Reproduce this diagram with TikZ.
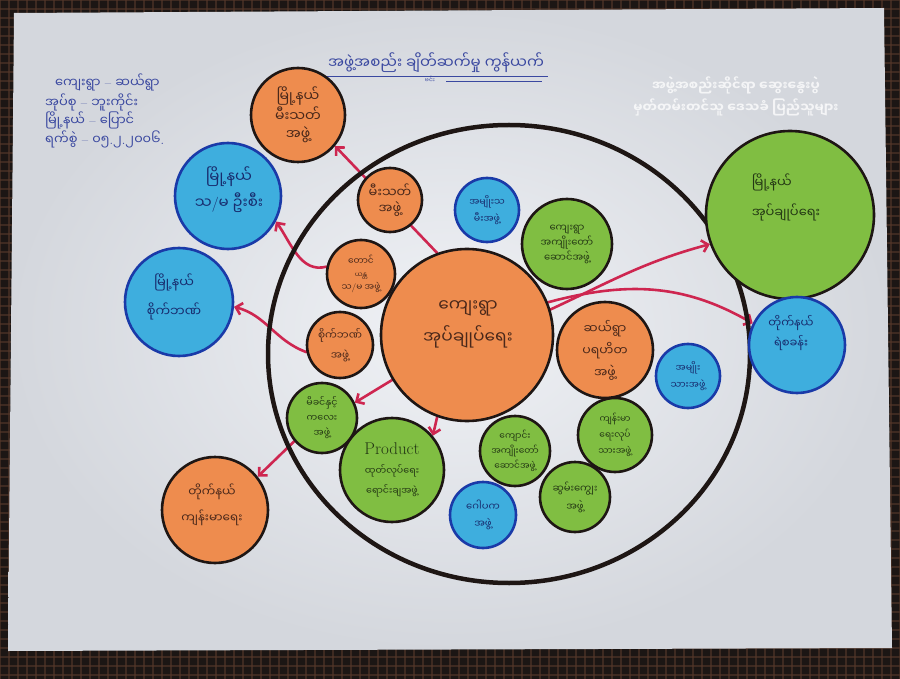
\documentclass[tikz,border=0pt]{standalone}
\usepackage{fontspec}
\usetikzlibrary{arrows.meta}
\newfontfamily\my[Script=Myanmar]{Noto Sans Myanmar UI}
\newcommand{\slsh}{{\normalfont /}}
\newcommand{\dsh}{{\normalfont\ --\ }}
\newcommand{\dt}{{\normalfont .}}
\newcommand{\fs}[2]{\fontsize{#1}{#2}\selectfont}
\definecolor{cloth}{RGB}{28,22,20}
\definecolor{clothline}{RGB}{86,56,42}
\definecolor{paperin}{RGB}{240,242,246}
\definecolor{paperout}{RGB}{212,215,221}
\definecolor{orangef}{RGB}{238,140,78}
\definecolor{greenf}{RGB}{128,190,66}
\definecolor{bluef}{RGB}{62,174,222}
\definecolor{bluedraw}{RGB}{26,58,168}
\definecolor{inkdark}{RGB}{30,22,20}
\definecolor{otext}{RGB}{74,40,26}
\definecolor{gtext}{RGB}{36,56,20}
\definecolor{btext}{RGB}{24,44,110}
\definecolor{blueink}{RGB}{58,72,160}
\definecolor{redarr}{RGB}{206,38,80}
\pgfdeclarelayer{back}
\pgfdeclarelayer{arrows}
\pgfsetlayers{back,arrows,main}
\tikzset{
  circ/.style={circle, inner sep=0pt, align=center, line width=2.6pt},
  org/.style={circ, draw=inkdark, fill=orangef, text=otext},
  grn/.style={circ, draw=inkdark, fill=greenf, text=gtext},
  blu/.style={circ, draw=bluedraw, fill=bluef, text=btext},
  ctext/.style={align=center, inner sep=0pt},
  arr/.style={draw=redarr, line width=2.6pt, line cap=round, -{Straight Barb[length=6pt,width=12pt]}},
  hdr/.style={anchor=west, text=blueink, font=\my\fs{13}{15}, inner sep=0pt},
}
\begin{document}
\begin{tikzpicture}[x=1pt,y=-1pt]
\useasboundingbox (0,0) rectangle (900,679);
\begin{pgfonlayer}{back}
  \fill[cloth] (0,0) rectangle (900,679);
  \foreach \v in {0,9,...,900} {\draw[clothline, line width=1.4pt, opacity=0.6] (\v,0) -- (\v,679);}
  \foreach \v in {0,9,...,679} {\draw[clothline, line width=1.4pt, opacity=0.6] (0,\v) -- (900,\v);}
  \shade[inner color=paperin, outer color=paperout] (14,13) -- (884,8) -- (892,648) -- (8,651) -- cycle;
\end{pgfonlayer}

% header
\node[hdr] (h1) at (55,82) {ကျေးရွာ\dsh ဆယ်ရွာ};
\node[hdr] (h2) at (45,102) {အုပ်စု\dsh ဘူးကိုင်း};
\node[hdr] (h3) at (45,120) {မြို့နယ်\dsh ပြောင်};
\node[hdr] (h4) at (45,139) {ရက်စွဲ\dsh ၀၅\dt၂\dt၂၀၀၆\dt};

% title
\node[text=blueink, font=\my\fs{15}{17}, inner sep=0pt] (title) at (436,63) {အဖွဲ့အစည်း ချိတ်ဆက်မှု ကွန်ယက်};
\coordinate (u1a) at (322,76); \coordinate (u1b) at (548,76);
\coordinate (u2a) at (446,81); \coordinate (u2b) at (542,81);
\draw[blueink, line width=0.8pt] (u1a) -- (u1b);
\draw[blueink, line width=0.8pt] (u2a) -- (u2b);
\node[text=blueink, font=\my\fs{6}{7}, inner sep=0pt] (venn) at (430,79) {ဗင်း};

% whited-out text
\node[text=white, opacity=0.75, font=\my\bfseries\fs{13}{22}, align=center, inner sep=0pt] (wt) at (736,96) {အဖွဲ့အစည်းဆိုင်ရာ ဆွေးနွေးပွဲ\\မှတ်တမ်းတင်သူ ဒေသခံ ပြည်သူများ};

% outer ring
\draw[inkdark, line width=4.5pt] (509,354) ellipse [x radius=241, y radius=229];

% circles
\node[org, minimum size=94pt, font=\my\fs{14}{18}] (fireT) at (298,115) {မြို့နယ်\\မီးသတ်\\အဖွဲ့};
\node[blu, minimum size=106pt] (coopT) at (228,196) {};
\node[ctext, text=btext, font=\my\fs{15}{26}] (coopTt) at (229,190) {မြို့နယ်\\သ\slsh မ ဦးစီး};
\node[blu, minimum size=108pt] (bankT) at (179,302) {};
\node[ctext, text=btext, font=\my\fs{13}{29}] (bankTt) at (174,297) {မြို့နယ်\\စိုက်ဘဏ်};
\node[grn, minimum size=168pt] (admT) at (790,215) {};
\node[text=gtext, font=\my\fs{13}{30}, align=left, inner sep=0pt] (admTt) at (786,197) {မြို့နယ်\\အုပ်ချုပ်ရေး};
\node[blu, minimum size=96pt] (police) at (797,345) {};
\node[ctext, text=btext, font=\my\fs{11.5}{20}] (policet) at (791,333) {တိုက်နယ်\\ရဲစခန်း};
\node[org, minimum size=172pt] (cen) at (467,335) {};
\node[ctext, text=otext, font=\my\fs{17}{32}] (cent) at (468,324) {ကျေးရွာ\\အုပ်ချုပ်ရေး};
\node[org, minimum size=64pt, font=\my\fs{13}{16}] (fire) at (390,200) {မီးသတ်\\အဖွဲ့};
\node[blu, minimum size=64pt, font=\my\fs{9.5}{17}] (women) at (487,210) {အမျိုးသ\\မီးအဖွဲ့};
\node[grn, minimum size=90pt, font=\my\fs{10}{15}] (vrep) at (567,244) {ကျေးရွာ\\အကျိုးတော်\\ဆောင်အဖွဲ့};
\node[org, minimum size=68pt, font=\my\fs{9}{13}] (coop) at (361,274) {တောင်\\{\fs{7}{11}ယန္တ}\\သ\slsh မ အဖွဲ့};
\node[org, minimum size=66pt, font=\my\fs{10.5}{20}] (bank) at (340,345) {စိုက်ဘဏ်\\အဖွဲ့};
\node[org, minimum size=96pt, font=\my\fs{12.5}{22}] (charity) at (605,350) {ဆယ်ရွာ\\ပရဟိတ\\အဖွဲ့};
\node[blu, minimum size=64pt, font=\my\fs{9.5}{17}] (men) at (688,376) {အမျိုး\\သားအဖွဲ့};
\node[grn, minimum size=70pt, font=\my\fs{9.5}{15}] (mc) at (322,418) {မိခင်နှင့်\\ကလေး\\အဖွဲ့};
\node[org, minimum size=106pt] (health) at (215,510) {};
\node[ctext, text=otext, font=\my\fs{12}{26}] (healtht) at (212,505) {တိုက်နယ်\\ကျန်းမာရေး};
\node[grn, minimum size=104pt, font=\my\fs{9.5}{20}] (prod) at (392,470) {{\normalfont\fs{17}{17}Product}\\ထုတ်လုပ်ရေး\\ရောင်းချအဖွဲ့};
\node[grn, minimum size=70pt, font=\my\fs{9}{15}] (school) at (515,451) {ကျောင်း\\အကျိုးတော်\\ဆောင်အဖွဲ့};
\node[grn, minimum size=74pt, font=\my\fs{9}{16}] (hw) at (615,435) {ကျန်းမာ\\ရေးလုပ်\\သားအဖွဲ့};
\node[blu, minimum size=66pt, font=\my\fs{10}{17}] (pagoda) at (483,515) {ဂေါပက\\အဖွဲ့};
\node[grn, minimum size=70pt, font=\my\fs{10}{18}] (monk) at (575,497) {ဆွမ်းကျွေး\\အဖွဲ့};

% arrows
\begin{pgfonlayer}{arrows}
  \draw[arr] (cen.110) -- (fireT.-40);
  \draw[arr] (coop.168) to[out=195,in=-55] (coopT.-28);
  \draw[arr] (bank.192) to[out=160,in=-15] (bankT.-5);
  \draw[arr] (mc.220) -- (health.38);
  \draw[arr] (cen.211) -- (mc.25);
  \draw[arr] (cen.250) -- (prod.40);
  \draw[arr] (cen.17) to[out=25,in=195] (admT.200);
  \draw[arr] (cen.22) to[out=15,in=150] (police.154);
\end{pgfonlayer}
\end{tikzpicture}
\end{document}
